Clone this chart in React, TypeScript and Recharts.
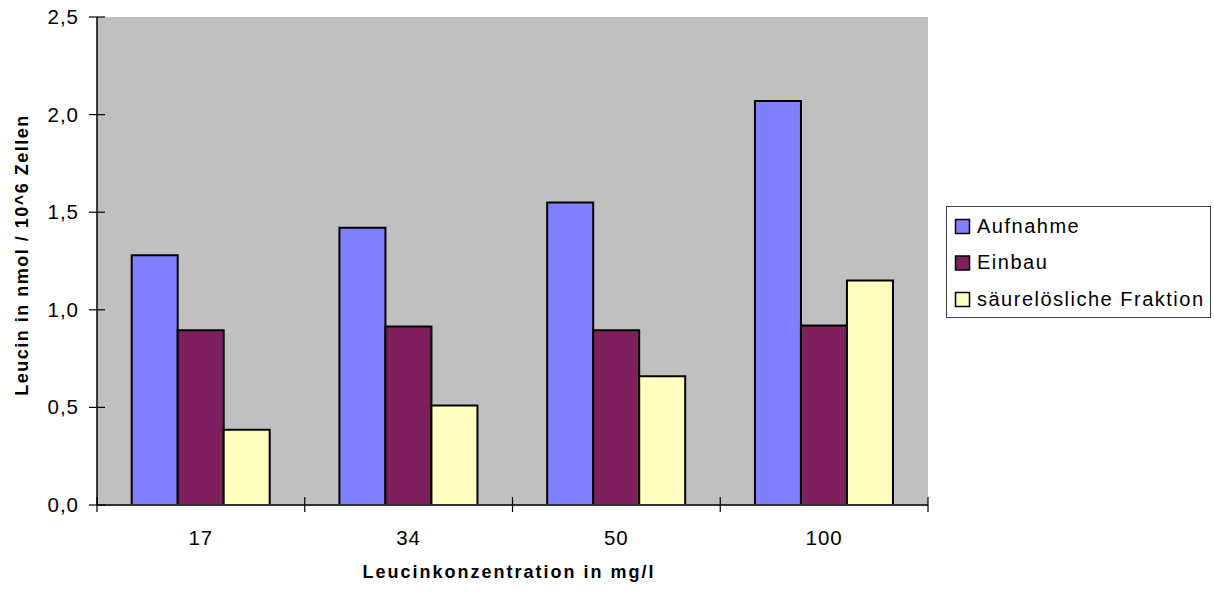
import React from 'react';
import { BarChart, Bar, XAxis, YAxis, CartesianGrid, Legend, Label } from 'recharts';

// Leucine uptake, incorporation and acid-soluble fraction per leucine concentration
const concentrations = ['17', '34', '50', '100'];
const aufnahme = [1.28, 1.42, 1.55, 2.07];
const einbau = [0.895, 0.915, 0.895, 0.92];
const saeureloeslich = [0.385, 0.51, 0.66, 1.15];
const yTicks = [0, 0.5, 1, 1.5, 2, 2.5];

const seriesKeys = ['aufnahme', 'einbau', 'saeure'];
const seriesNames = ['Aufnahme', 'Einbau', 'säurelösliche Fraktion'];
const seriesColors = ['#8080FF', '#7F1F5F', '#FFFFC0'];

const data = concentrations.map((konz, i) => ({
  konz,
  aufnahme: aufnahme[i],
  einbau: einbau[i],
  saeure: saeureloeslich[i],
}));

const FONT = '"Liberation Sans", Arial, Helvetica, sans-serif';
const Y_TICK_SIZE = 8;
const Y_TICK_MARGIN = 11;
const X_TICK_SIZE = 8;
const X_TICK_MARGIN = 25;

const fmt = (v: number) => v.toFixed(1).replace('.', ',');

// Excel-style cross tick marks on the value axis
function YTick(props: any) {
  const { x, y, payload } = props;
  const axisX = x + Y_TICK_SIZE + Y_TICK_MARGIN;
  return (
    <g>
      <line x1={axisX - 8} x2={axisX + 8} y1={y} y2={y} stroke="#000" strokeWidth={1.2} />
      <text x={x + 1} y={y} dy={7} textAnchor="end" fontFamily={FONT} fontSize={20.5} letterSpacing={1} fill="#000">
        {fmt(payload.value)}
      </text>
    </g>
  );
}

// Category labels centred, cross tick marks on the category boundaries
function XTick(props: any) {
  const { x, y, payload, index, visibleTicksCount } = props;
  const axisY = y - X_TICK_SIZE - X_TICK_MARGIN;
  const half = payload.offset ?? 0;
  const edges = [x - half];
  if (index === visibleTicksCount - 1) edges.push(x + half);
  return (
    <g>
      {edges.map((ex, i) => (
        <line key={i} x1={ex} x2={ex} y1={axisY - 8} y2={axisY + 7} stroke="#000" strokeWidth={1.2} />
      ))}
      <text x={x} y={axisY + 40} textAnchor="middle" fontFamily={FONT} fontSize={20.5} letterSpacing={1} fill="#000">
        {payload.value}
      </text>
    </g>
  );
}

function LegendBox(props: any) {
  const payload = props.payload || [];
  return (
    <svg width={266} height={113} style={{ display: 'block' }}>
      <rect x={0.5} y={0.5} width={264} height={111} fill="#fff" stroke="#404040" strokeWidth={1} />
      {payload.map((entry: any, i: number) => {
        const idx = seriesNames.indexOf(entry.value);
        const color = idx >= 0 ? seriesColors[idx] : entry.color;
        const top = 13.5 + i * 36.5;
        return (
          <g key={entry.value}>
            <rect x={9.5} y={top} width={14} height={14} fill={color} stroke="#000" strokeWidth={1.5} />
            <text x={31} y={top + 13} fontFamily={FONT} fontSize={20} letterSpacing={1.5} fill="#000">
              {entry.value}
            </text>
          </g>
        );
      })}
    </svg>
  );
}

export default function App() {
  return (
    <div style={{ position: 'absolute', left: 0, top: 0, width: 1214, height: 594, background: '#fff' }}>
      <BarChart
        width={1214}
        height={594}
        data={data}
        margin={{ top: 17, right: 286, bottom: 0, left: 0 }}
        barCategoryGap="16.7%"
        barGap={0}
      >
        <CartesianGrid horizontal={false} vertical={false} fill="#C0C0C0" />
        <XAxis
          dataKey="konz"
          height={89}
          tickSize={X_TICK_SIZE}
          tickMargin={X_TICK_MARGIN}
          tickLine={false}
          axisLine={{ stroke: '#303030', strokeWidth: 2 }}
          tick={<XTick />}
          interval={0}
        >
          <Label
            content={(p: any) => {
              const vb = p.viewBox || {};
              return (
                <text
                  x={vb.x + vb.width / 2 - 3.5}
                  y={vb.y + 73}
                  textAnchor="middle"
                  fontFamily={FONT}
                  fontSize={18}
                  fontWeight="bold"
                  letterSpacing={2}
                  fill="#000"
                >
                  Leucinkonzentration in mg/l
                </text>
              );
            }}
          />
        </XAxis>
        <XAxis xAxisId="top" dataKey="konz" orientation="top" height={0} tick={false} tickLine={false} axisLine={{ stroke: '#808080', strokeWidth: 1.5 }} />
        <YAxis
          width={97}
          domain={[0, 2.5]}
          ticks={yTicks}
          tickSize={Y_TICK_SIZE}
          tickMargin={Y_TICK_MARGIN}
          tickLine={false}
          axisLine={{ stroke: '#000', strokeWidth: 1.5 }}
          tick={<YTick />}
          interval={0}
        >
          <Label
            content={(p: any) => {
              const vb = p.viewBox || {};
              const cx = vb.x + 22;
              const cy = vb.y + vb.height / 2 - 6;
              return (
                <text
                  transform={`translate(${cx},${cy}) rotate(-90)`}
                  textAnchor="middle"
                  dominantBaseline="central"
                  fontFamily={FONT}
                  fontSize={18}
                  fontWeight="bold"
                  letterSpacing={1.5}
                  fill="#000"
                >
                  Leucin in nmol / 10^6 Zellen
                </text>
              );
            }}
          />
        </YAxis>
        <YAxis yAxisId="right" orientation="right" width={0} domain={[0, 2.5]} tick={false} tickLine={false} axisLine={{ stroke: '#808080', strokeWidth: 1.5 }} />
        <Legend
          layout="vertical"
          align="center"
          verticalAlign="middle"
          wrapperStyle={{ position: 'absolute', left: 946, top: 206, width: 266, height: 113 }}
          content={<LegendBox />}
        />
        {seriesKeys.map((key, i) => (
          <Bar
            key={key}
            dataKey={key}
            name={seriesNames[i]}
            fill={seriesColors[i]}
            stroke="#000"
            strokeWidth={2}
            isAnimationActive={false}
          />
        ))}
      </BarChart>
    </div>
  );
}
